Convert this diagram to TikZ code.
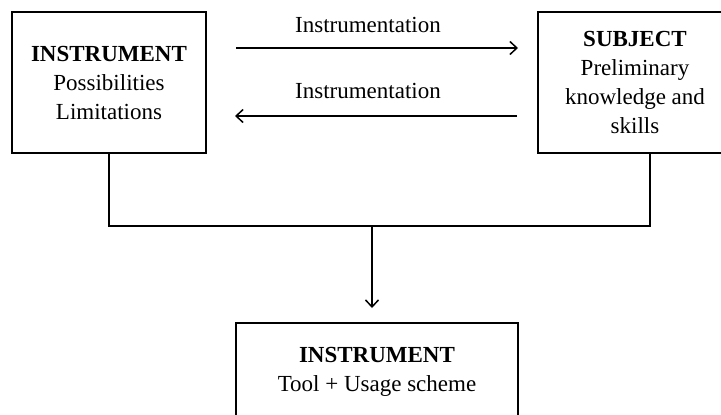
\documentclass[tikz,border=0pt]{standalone}
\usepackage{fontspec}
\setmainfont{Liberation Serif}
\usetikzlibrary{arrows.meta}
\begin{document}
\begin{tikzpicture}[x=1bp,y=-1bp,
  box/.style={draw,line width=2.5bp,rectangle,inner sep=0pt,align=center,
    font=\fontsize{23bp}{29bp}\selectfont},
  txt/.style={align=center,inner sep=0pt,font=\fontsize{23bp}{29bp}\selectfont},
  conn/.style={line width=1.5bp},
  arr/.style={conn,-{Straight Barb[length=7bp,width=13bp,line width=1.5bp]}}]
\useasboundingbox (0,0) rectangle (721,414);
\node[box,minimum width=194bp,minimum height=141bp] (inst) at (109,82.5)
  {\textbf{INSTRUMENT}\\Possibilities\\Limitations};
\node[box,minimum width=194bp,minimum height=141bp] (subj) at (635,82.5)
  {\textbf{SUBJECT}\\Preliminary\\knowledge and\\skills};
\node[box,minimum width=282bp,minimum height=141bp] (res) at (377,393.5) {};
\node[txt] (restext) at (377,372) {\textbf{INSTRUMENT}\\Tool + Usage scheme};
\coordinate (a1s) at (236,48);
\coordinate (a1e) at (518,48);
\coordinate (a2s) at (517,116);
\coordinate (a2e) at (235,116);
\node[txt] (l1) at (368,25) {Instrumentation};
\node[txt] (l2) at (368,91) {Instrumentation};
\draw[arr] (a1s) -- (a1e);
\draw[arr] (a2s) -- (a2e);
\coordinate (jl) at (109,226);
\coordinate (jr) at (650,226);
\coordinate (sr) at (650,153);
\coordinate (jm) at (372,226);
\coordinate (am) at (372,308);
\draw[conn] (inst.south) -- (jl) -- (jr) -- (sr);
\draw[arr] (jm) -- (am);
\end{tikzpicture}
\end{document}
